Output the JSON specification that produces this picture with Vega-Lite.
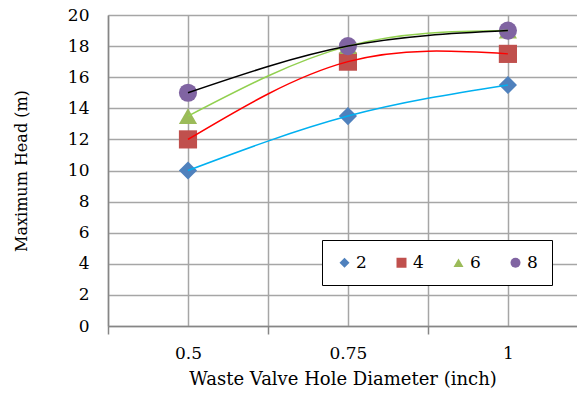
{
  "$schema": "https://vega.github.io/schema/vega-lite/v6.json",
  "width": 469,
  "height": 311,
  "autosize": "none",
  "padding": {"left": 108, "top": 15, "right": 0, "bottom": 72},
  "background": "white",
  "config": {
    "font": "DejaVu Serif",
    "view": {"stroke": null},
    "axis": {
      "gridColor": "#a6a6a6",
      "gridWidth": 1.5,
      "domainColor": "#868686",
      "domainWidth": 1.5,
      "tickColor": "#868686",
      "tickWidth": 1.5,
      "labelFont": "DejaVu Serif",
      "labelFontSize": 17,
      "labelColor": "#000000",
      "titleFont": "DejaVu Serif",
      "titleFontWeight": "normal",
      "titleColor": "#000000"
    }
  },
  "data": {
    "values": [
      {"d": 0.5, "s": "2", "h": 10},
      {"d": 0.75, "s": "2", "h": 13.5},
      {"d": 1, "s": "2", "h": 15.5},
      {"d": 0.5, "s": "4", "h": 12},
      {"d": 0.75, "s": "4", "h": 17},
      {"d": 1, "s": "4", "h": 17.5},
      {"d": 0.5, "s": "6", "h": 13.5},
      {"d": 0.75, "s": "6", "h": 18},
      {"d": 1, "s": "6", "h": 19},
      {"d": 0.5, "s": "8", "h": 15},
      {"d": 0.75, "s": "8", "h": 18},
      {"d": 1, "s": "8", "h": 19}
    ]
  },
  "encoding": {
    "x": {
      "field": "d",
      "type": "quantitative",
      "scale": {"domain": [0.375, 1.108], "nice": false, "zero": false},
      "axis": {
        "title": "Waste Valve Hole Diameter (inch)",
        "titleFontSize": 18,
        "values": [0.375, 0.5, 0.625, 0.75, 0.875, 1],
        "labelExpr": "datum.value == 0.5 ? '0.5' : datum.value == 0.75 ? '0.75' : datum.value == 1 ? '1' : ''",
        "tickSize": 8,
        "tickOpacity": {"condition": {"test": "datum.value == 0.5 || datum.value == 0.75 || datum.value == 1", "value": 0}, "value": 1},
        "labelPadding": 11,
        "titlePadding": 9,
        "labelFlush": false
      }
    },
    "y": {
      "field": "h",
      "type": "quantitative",
      "scale": {"domain": [0, 20], "nice": false},
      "axis": {
        "title": "Maximum Head (m)",
        "titleFontSize": 16,
        "values": [0, 2, 4, 6, 8, 10, 12, 14, 16, 18, 20],
        "ticks": false,
        "labelPadding": 19,
        "titlePadding": 38
      }
    }
  },
  "layer": [
    {
      "mark": {"type": "point", "filled": true, "opacity": 1, "size": 330, "strokeWidth": 0},
      "encoding": {
        "fill": {
          "field": "s",
          "type": "nominal",
          "scale": {"domain": ["2", "4", "6", "8"], "range": ["#4F81BD", "#C0504D", "#9BBB59", "#8064A2"]},
          "legend": {
            "title": null,
            "orient": "none",
            "legendX": 214,
            "legendY": 225,
            "direction": "horizontal",
            "strokeColor": "#000000",
            "fillColor": "#ffffff",
            "padding": 14,
            "symbolSize": 100,
            "symbolStrokeWidth": 0,
            "labelFontSize": 17,
            "labelFont": "DejaVu Serif",
            "labelColor": "#000000",
            "labelOffset": 3,
            "columnPadding": 26
          }
        },
        "shape": {
          "field": "s",
          "type": "nominal",
          "scale": {"domain": ["2", "4", "6", "8"], "range": ["diamond", "square", "triangle-up", "circle"]},
          "legend": {
            "title": null,
            "orient": "none",
            "legendX": 214,
            "legendY": 225,
            "direction": "horizontal",
            "strokeColor": "#000000",
            "fillColor": "#ffffff",
            "padding": 14,
            "symbolSize": 100,
            "symbolStrokeWidth": 0,
            "labelFontSize": 17,
            "labelFont": "DejaVu Serif",
            "labelColor": "#000000",
            "labelOffset": 3,
            "columnPadding": 26
          }
        }
      }
    },
    {
      "mark": {"type": "line", "interpolate": "natural", "strokeWidth": 1.5},
      "encoding": {
        "stroke": {
          "field": "s",
          "type": "nominal",
          "scale": {"domain": ["2", "4", "6", "8"], "range": ["#00B0F0", "#FF0000", "#92D050", "#000000"]},
          "legend": null
        },
        "order": {"field": "d", "type": "quantitative"}
      }
    }
  ]
}
